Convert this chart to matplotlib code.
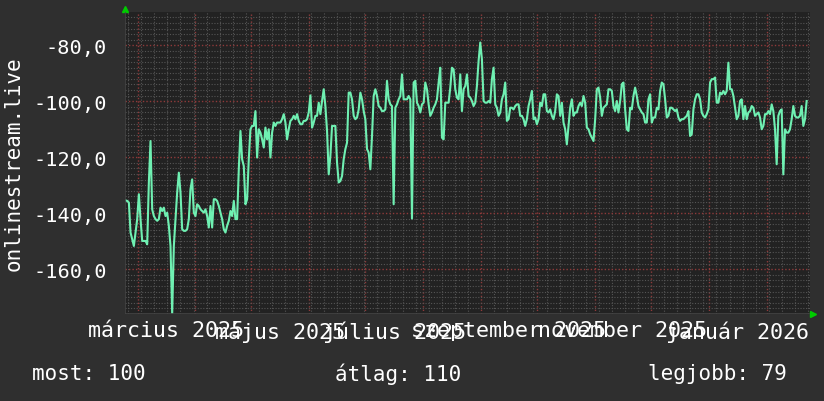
import matplotlib
matplotlib.use("Agg")
from matplotlib import pyplot as plt
import matplotlib.dates as mdates
import pandas as pd
import numpy as np

# values, oldest first
values = [
    -135.4, -135.6, -136.2, -146.9, -149.3, -151.7, -146.9, -142.1, -133.2, -142.1,
    -149.9, -149.9, -149.9, -151.1, -129.0, -114.2, -138.6, -141.0, -142.1, -142.7,
    -142.1, -138.0, -139.2, -138.0, -141.0, -139.8, -144.5, -151.7, -176.0, -151.7,
    -142.1, -132.6, -125.5, -132.6, -145.7, -146.3, -146.3, -145.7, -142.1, -131.4,
    -127.9, -139.8, -141.0, -136.8, -137.4, -138.6, -139.2, -139.8, -138.6, -141.0,
    -145.1, -137.4, -145.1, -135.0, -135.0, -135.6, -137.4, -139.8, -142.1, -145.7,
    -146.9, -144.5, -142.7, -139.2, -141.0, -135.6, -142.1, -142.1, -124.3, -110.6,
    -120.7, -123.1, -136.8, -135.0, -120.7, -110.0, -108.8, -108.8, -103.5, -120.1,
    -110.0, -111.2, -113.6, -116.5, -109.4, -113.6, -110.0, -120.1, -111.2, -107.6,
    -108.8, -107.6, -107.6, -107.6, -106.4, -104.6, -107.6, -113.6, -110.0, -107.0,
    -106.4, -105.2, -106.4, -104.6, -107.0, -108.2, -108.2, -107.0, -107.0, -106.4,
    -104.0, -97.9, -109.4, -107.6, -105.2, -105.2, -100.5, -104.6, -99.9, -95.7,
    -101.7, -110.6, -126.1, -119.5, -108.8, -108.8, -108.8, -121.9, -129.0, -128.5,
    -126.7, -120.7, -117.1, -114.8, -96.9, -96.9, -99.3, -105.2, -106.4, -105.8,
    -102.9, -96.9, -99.3, -103.5, -106.4, -117.1, -118.3, -124.3, -112.4, -98.1,
    -95.7, -98.1, -101.7, -102.3, -103.5, -103.5, -102.9, -92.7, -99.3, -101.1,
    -101.7, -136.8, -102.3, -101.1, -99.3, -98.1, -90.4, -99.3, -99.3, -99.3,
    -98.1, -99.3, -141.9, -93.3, -92.7, -100.5, -101.7, -104.0, -101.1, -100.5,
    -93.3, -95.7, -101.1, -105.2, -104.0, -102.3, -101.1, -99.3, -93.3, -88.0,
    -113.0, -113.6, -100.5, -100.5, -100.5, -95.1, -88.0, -88.6, -95.7, -98.7,
    -99.3,
    -90.4, -103.5, -95.7, -94.5, -90.4, -98.1, -98.7, -99.9, -101.7, -100.5,
    -94.5, -85.6, -79.0, -85.0, -99.9, -100.5, -100.5, -99.9, -100.5, -92.1,
    -88.0, -101.1, -102.3, -105.2, -104.0, -99.3, -97.5, -93.3, -107.0, -106.4,
    -102.3, -102.3, -102.9, -101.7, -101.1, -101.1, -105.2, -105.2, -106.4, -108.8,
    -106.4, -101.7, -99.3, -96.3, -106.4, -105.8, -108.2, -106.4, -100.5, -101.7,
    -97.5, -97.5, -103.5, -104.0, -102.9, -105.2, -106.4, -103.5, -97.5, -98.1,
    -105.2, -100.5, -107.6, -110.0, -115.4, -108.8, -102.3, -99.3, -105.2, -104.0,
    -104.0, -101.7, -100.5, -101.7, -98.1, -100.5, -109.4, -110.0, -111.8, -113.0,
    -114.2, -106.4, -95.7, -95.1, -98.7, -105.2, -102.3, -101.7, -101.1, -95.7,
    -95.7, -96.3, -101.7, -103.5, -99.9, -104.0, -99.9, -93.9, -93.3, -102.9,
    -110.0, -110.6, -102.3, -102.9, -98.1, -95.1, -98.1, -101.7, -102.9, -104.0,
    -104.6, -107.6, -107.6, -99.3, -97.5, -107.6, -105.8, -105.8, -102.3, -102.9,
    -96.3, -93.3, -93.9, -99.3, -105.8, -105.2, -102.3, -102.3, -102.9, -103.5,
    -102.9, -105.8, -107.0, -106.4, -106.4, -105.8, -105.2, -103.5, -112.4, -111.8,
    -102.9, -99.3, -97.5, -97.5, -99.3, -104.0, -105.2, -105.8, -104.6, -102.9,
    -93.3, -92.1, -92.1, -91.5, -100.5, -100.5, -96.9, -97.5, -96.3, -97.5,
    -96.3, -86.2, -95.7, -95.7, -98.1, -102.3, -106.4, -105.2, -99.9, -99.3,
    -106.4, -101.7, -106.4, -104.0, -103.5, -101.7, -102.3, -105.2, -104.6, -104.0,
    -105.8, -110.0, -108.8, -104.6, -104.6, -103.5, -104.6, -101.1, -103.5, -110.0,
    -122.5, -105.2, -103.5, -102.9, -126.1, -110.0, -111.2, -111.2, -110.0, -106.4,
    -101.7, -105.2, -105.8, -105.8, -105.2, -101.7, -108.8, -106.4, -99.9,
]
first_time = "2025-02-22 14:00"
last_time = "2026-02-22 07:00"

y_ticks = [-160, -140, -120, -100, -80]
month_labels = ["március 2025", "május 2025", "július 2025",
                "szeptember 2025", "november 2025", "január 2026"]
month_label_at = ["2025-03-16 12:00", "2025-05-16 12:00", "2025-07-16 12:00",
                  "2025-09-15 12:00", "2025-11-15 12:00", "2026-01-16 12:00"]
ylabel = "onlinestream.live"
legend_items = ["most: 100", "átlag: 110", "legjobb: 79"]

bg = "#2f2f2f"
canvas = "#222222"
line_col = "#6ff0b2"
minor_col = "#555555"
major_col = "#8e3a3a"
mono = "DejaVu Sans Mono"

times = pd.date_range(first_time, last_time, periods=len(values))

fig = plt.figure(figsize=(8.24, 4.02), dpi=100, facecolor=bg)
ax = fig.add_axes([125 / 824, 1 - 315 / 402, 685 / 824, 302 / 402])
ax.set_facecolor(canvas)

ax.plot(times, values, color=line_col, lw=1.5, zorder=3)

ax.set_xlim(pd.Timestamp("2025-02-22 07:00"), pd.Timestamp("2026-02-24 02:00"))
ax.set_ylim(-176, -68.1)

# grid: weekly + monthly verticals, 2 / 20 unit horizontals
ax.xaxis.set_major_locator(mdates.MonthLocator())
ax.xaxis.set_minor_locator(mdates.WeekdayLocator(byweekday=mdates.MO))
ax.yaxis.set_major_locator(plt.FixedLocator(y_ticks))
ax.yaxis.set_minor_locator(plt.MultipleLocator(2))
ax.grid(which="minor", color=minor_col, ls=(0, (1, 1.5)), lw=0.8)
ax.grid(which="major", color=major_col, ls=(0, (1, 1.5)), lw=1.0)
ax.set_axisbelow(True)
for gl in ax.xaxis.get_gridlines() + ax.yaxis.get_gridlines():
    gl.set_zorder(1.5)

ax.set_xticklabels([])
ax.tick_params(which="both", length=0)
ax.set_yticks(y_ticks)
ax.set_yticklabels([f"{v},0" for v in y_ticks], family=mono, fontsize=14.6,
                   color="white")
ax.tick_params(axis="y", pad=13)

for lab, at in zip(month_labels, month_label_at):
    ax.text(pd.Timestamp(at), -178.3, lab, ha="center", va="top", family=mono,
            fontsize=15.6, color="white", clip_on=False)

for s in ax.spines.values():
    s.set_visible(False)
ax.axhline(-176, color="#444444", lw=1.2, zorder=4)
ax.axvline(ax.get_xlim()[0], color="#444444", lw=1.2, zorder=4)

# rrdtool style green arrows
ax.plot([0], [1.01], marker="^", color="#00cc00", ms=5, transform=ax.transAxes,
        clip_on=False)
ax.plot([1.004], [0], marker=">", color="#00cc00", ms=5, transform=ax.transAxes,
        clip_on=False)

fig.text(14 / 824, 1 - 164 / 402, ylabel, rotation=90, ha="center", va="center",
         family=mono, fontsize=15, color="white")

for lab, x0 in zip(legend_items, [32, 335, 648]):
    fig.text(x0 / 824, 1 - 374 / 402, lab, ha="left", va="center", family=mono,
             fontsize=15, color="white")

fig.savefig("out.png", dpi=100, facecolor=bg)
